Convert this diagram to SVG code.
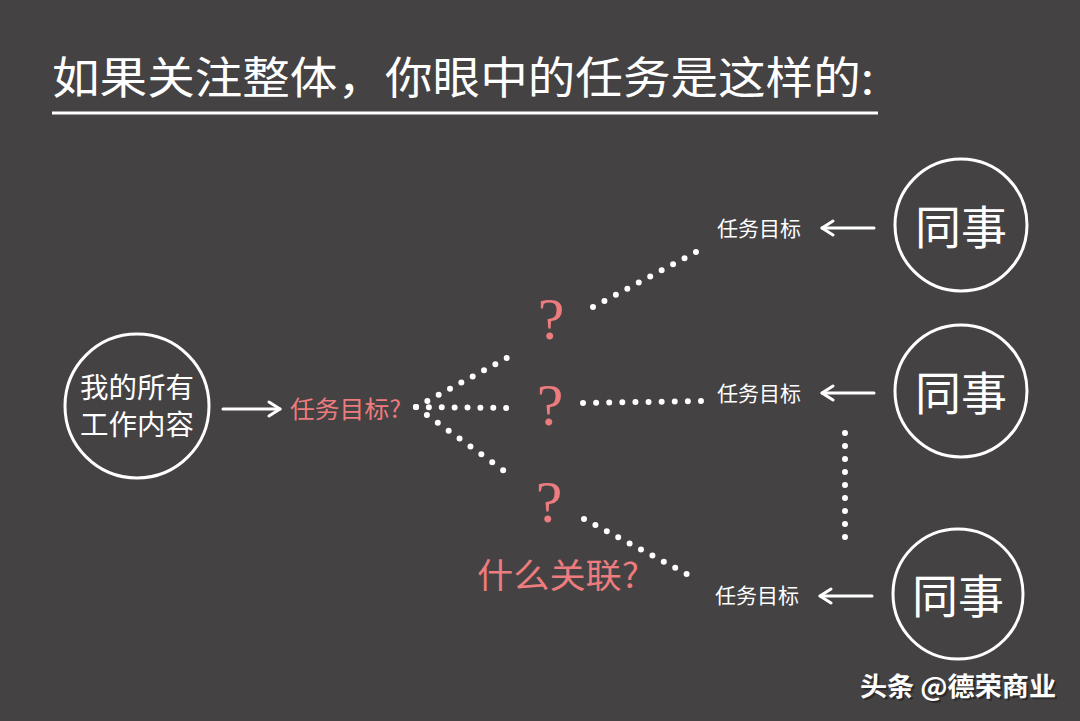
<svg xmlns="http://www.w3.org/2000/svg" width="1080" height="721" viewBox="0 0 1080 721">
<style>
.t{font-family:"Noto Sans CJK SC","Noto Sans",sans-serif;fill:#fff}
.p{fill:#ec7c7d}
.ring{fill:none;stroke:#fff;stroke-width:3}
.dot{stroke:#fff;stroke-width:6;stroke-linecap:round;fill:none}
.arr{stroke:#fff;stroke-width:3;fill:none;stroke-linecap:round;stroke-linejoin:round}
</style>
<defs>
<marker id="ah" viewBox="0 0 16 18" refX="14" refY="9" markerWidth="16" markerHeight="18" markerUnits="userSpaceOnUse" orient="auto">
<path d="M3,2 L14,9 L3,16" fill="none" stroke="#fff" stroke-width="3" stroke-linecap="round" stroke-linejoin="round"/>
</marker>
</defs>
<rect width="1080" height="721" fill="#454244"/>
<g id="title">
<text class="t" x="52" y="94" font-size="44" textLength="822" lengthAdjust="spacingAndGlyphs">如果关注整体，你眼中的任务是这样的:</text>
<line x1="52" y1="113" x2="878" y2="113" stroke="#fff" stroke-width="3"/>
</g>
<g id="connectors">
<line class="arr" x1="223" y1="409" x2="280" y2="409" marker-end="url(#ah)"/>
<line class="arr" x1="874" y1="228" x2="822" y2="228" marker-end="url(#ah)"/>
<line class="arr" x1="874" y1="393" x2="822" y2="393" marker-end="url(#ah)"/>
<line class="arr" x1="872" y1="596" x2="820" y2="596" marker-end="url(#ah)"/>
<line class="dot" x1="416" y1="407" x2="518" y2="352" stroke-dasharray="0 12.88"/>
<line class="dot" x1="416" y1="407" x2="519" y2="408" stroke-dasharray="0 12.88"/>
<line class="dot" x1="416" y1="407" x2="514" y2="478" stroke-dasharray="0 13.45"/>
<line class="dot" x1="593" y1="307" x2="696" y2="252" stroke-dasharray="0 12.97"/>
<line class="dot" x1="583" y1="403" x2="701" y2="401" stroke-dasharray="0 13.11"/>
<line class="dot" x1="584" y1="519" x2="698" y2="580" stroke-dasharray="0 12.93"/>
<line class="dot" x1="845" y1="433" x2="845" y2="550" stroke-dasharray="0 13"/>
</g>
<g id="me">
<circle class="ring" cx="137" cy="406" r="72"/>
<text class="t" x="137" y="398" font-size="28" text-anchor="middle" textLength="114" lengthAdjust="spacingAndGlyphs">我的所有</text>
<text class="t" x="137" y="435" font-size="28" text-anchor="middle" textLength="114" lengthAdjust="spacingAndGlyphs">工作内容</text>
</g>
<g id="goal-me">
<text class="t p" x="290" y="418" font-size="24" textLength="111" lengthAdjust="spacingAndGlyphs">任务目标?</text>
</g>
<g id="q1"><text class="p" x="551" y="339" font-size="60" text-anchor="middle" font-family="Liberation Serif,serif">?</text></g>
<g id="q2"><text class="p" x="550" y="425" font-size="60" text-anchor="middle" font-family="Liberation Serif,serif">?</text></g>
<g id="q3"><text class="p" x="549" y="522" font-size="60" text-anchor="middle" font-family="Liberation Serif,serif">?</text></g>
<g id="relation"><text class="t p" x="477" y="588" font-size="34" textLength="162" lengthAdjust="spacingAndGlyphs">什么关联?</text></g>
<g id="goal1"><text class="t" x="717" y="236" font-size="21">任务目标</text></g>
<g id="goal2"><text class="t" x="717" y="401" font-size="21">任务目标</text></g>
<g id="goal3"><text class="t" x="715" y="603" font-size="21">任务目标</text></g>
<g id="colleague1">
<circle class="ring" cx="961" cy="225" r="66"/>
<text class="t" x="961" y="244" font-size="46" text-anchor="middle">同事</text>
</g>
<g id="colleague2">
<circle class="ring" cx="961" cy="391" r="66"/>
<text class="t" x="961" y="410" font-size="46" text-anchor="middle">同事</text>
</g>
<g id="colleague3">
<circle class="ring" cx="958" cy="594" r="65"/>
<text class="t" x="958" y="613" font-size="46" text-anchor="middle">同事</text>
</g>
<g id="watermark">
<text x="860" y="696" font-size="26" font-weight="bold" font-family="Noto Sans CJK SC,sans-serif" fill="#222" opacity="0.7" transform="translate(2,2)" textLength="196" lengthAdjust="spacingAndGlyphs">头条 @德荣商业</text>
<text x="860" y="696" font-size="26" font-weight="bold" font-family="Noto Sans CJK SC,sans-serif" fill="#fff" textLength="196" lengthAdjust="spacingAndGlyphs">头条 @德荣商业</text>
</g>
</svg>
